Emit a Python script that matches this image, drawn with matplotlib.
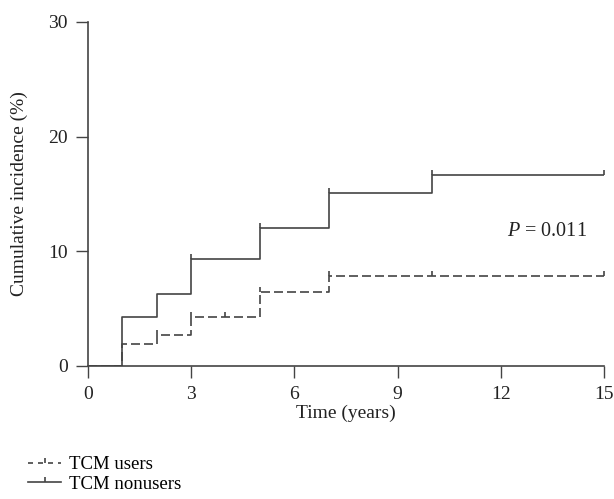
import numpy as np
import matplotlib.pyplot as plt
from matplotlib.lines import Line2D

plt.rc("font", family="Liberation Serif", size=14)
plt.rc("mathtext", fontset="custom", it="Liberation Serif:italic", rm="Liberation Serif")

# step data (years, cumulative incidence %)
t_nonusers = [0, 1, 2, 3, 5, 7, 10, 15]
ci_nonusers = [0, 4.28, 6.24, 9.29, 12.0, 15.1, 16.65, 16.65]
cens_nonusers = [3, 5, 7, 10, 15]

t_users = [0, 1, 2, 3, 5, 7, 15]
ci_users = [0, 1.92, 2.71, 4.28, 6.46, 7.86, 7.86]
cens_users = [2, 3, 4, 5, 7, 10, 15]

xticks = [0, 3, 6, 9, 12, 15]
yticks = [0, 10, 20, 30]

col = "#444444"
txt = "#222222"
lw = 1.2
tick_mark = [(0, 0), (0, 1)]  # censor tick pointing up


def step_value(ts, vs, x):
    idx = np.searchsorted(ts, x, side="right") - 1
    return np.asarray(vs)[idx]


fig = plt.figure(figsize=(6.14, 4.99), dpi=100)
ax = fig.add_axes([0.1428, 0.267, 0.841, 0.689])

ax.step(t_users, ci_users, where="post", color=col, lw=lw, ls=(0, (5.4, 2.4)))
ax.plot(cens_users, step_value(t_users, ci_users, cens_users), ls="none",
        marker=tick_mark, ms=7, mew=lw, color=col)

ax.step(t_nonusers, ci_nonusers, where="post", color=col, lw=lw)
ax.plot(cens_nonusers, step_value(t_nonusers, ci_nonusers, cens_nonusers), ls="none",
        marker=tick_mark, ms=7, mew=lw, color=col)

ax.text(13.35, 11.7, r"$P$ = 0.011", ha="center", va="center", fontsize=14.5, color=txt)

ax.set_xlim(0, 15)
ax.set_ylim(0, 30)
ax.set_xticks(xticks)
ax.set_yticks(yticks)
for s in ["top", "right"]:
    ax.spines[s].set_visible(False)
for s in ["left", "bottom"]:
    ax.spines[s].set_color(col)
    ax.spines[s].set_linewidth(1.2)
ax.tick_params(direction="out", length=8.5, width=1.0, color=col, labelcolor=txt)
ax.tick_params(axis="x", pad=6)
ax.tick_params(axis="y", pad=6)
ax.set_xlabel("Time (years)", color=txt, labelpad=1)
ax.set_ylabel("Cumulative incidence (%)", color=txt, labelpad=14)

handles = [
    Line2D([], [], color=col, lw=lw, ls=(0, (3, 3)), marker=tick_mark, ms=7, mew=lw),
    Line2D([], [], color=col, lw=lw, marker=tick_mark, ms=7, mew=lw),
]
fig.legend(handles, ["TCM users", "TCM nonusers"], loc="upper left",
           bbox_to_anchor=(0.045, 0.086), frameon=False, numpoints=1,
           borderpad=0, borderaxespad=0,
           handlelength=1.8, handletextpad=0.4, labelspacing=0.12, fontsize=13.5)

fig.savefig("out.png", dpi=100)
